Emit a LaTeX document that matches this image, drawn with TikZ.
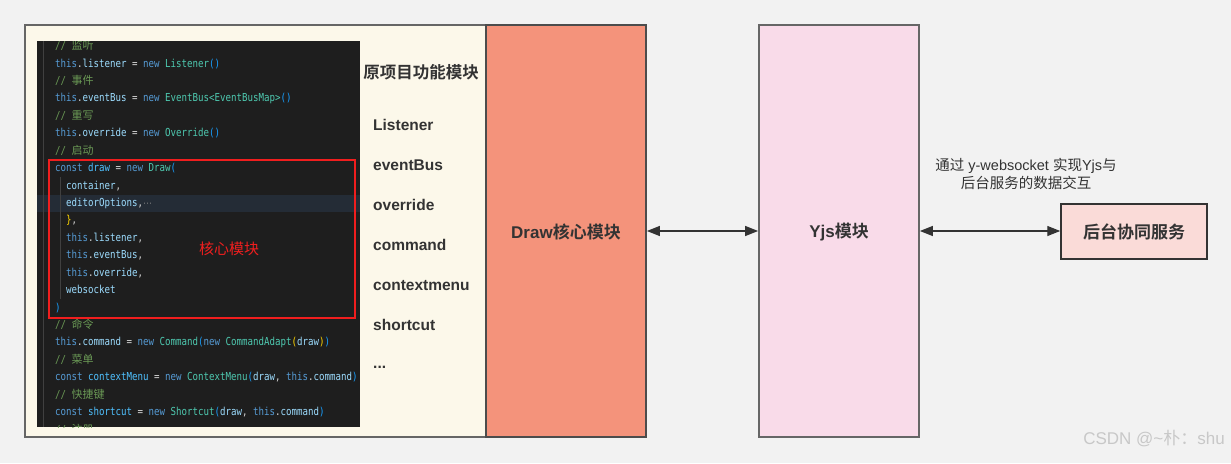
\documentclass[tikz,border=0pt]{standalone}
\usepackage{fontspec}
\setmainfont{Liberation Sans}
\setmonofont[FakeStretch=0.83]{DejaVu Sans Mono}
\newfontfamily\cjk[BoldFont={Noto Sans CJK SC Bold}]{Noto Sans CJK SC}
\newfontfamily\dvs{DejaVu Sans}
\usetikzlibrary{arrows.meta}
\definecolor{pagebg}{HTML}{F2F2F2}
\definecolor{cream}{HTML}{FCF8EA}
\definecolor{salmon}{HTML}{F4937B}
\definecolor{pinkbox}{HTML}{F9DBE9}
\definecolor{srvfill}{HTML}{FADBD8}
\definecolor{edge}{HTML}{666666}
\definecolor{txt}{HTML}{333333}
\definecolor{codebg}{HTML}{1E1E1E}
\definecolor{codehl}{HTML}{242C36}
\definecolor{guide}{HTML}{404040}
\definecolor{ckw}{HTML}{569CD6}
\definecolor{cpr}{HTML}{9CDCFE}
\definecolor{cvr}{HTML}{4FC1FF}
\definecolor{ccl}{HTML}{4EC9B0}
\definecolor{ccm}{HTML}{6A9955}
\definecolor{cop}{HTML}{D4D4D4}
\definecolor{cby}{HTML}{FFD700}
\definecolor{cbb}{HTML}{179FFF}
\definecolor{redmark}{HTML}{F01E1E}
\definecolor{wm}{HTML}{C8C8C8}
\newcommand\CKw[1]{\textcolor{ckw}{#1}}
\newcommand\CPr[1]{\textcolor{cpr}{#1}}
\newcommand\CVr[1]{\textcolor{cvr}{#1}}
\newcommand\CCl[1]{\textcolor{ccl}{#1}}
\newcommand\CBy[1]{\textcolor{cby}{#1}}
\newcommand\CBb[1]{\textcolor{cbb}{#1}}
\newcommand\CCm[1]{\textcolor{ccm}{// {\cjk\fontsize{11}{12}\selectfont #1}}}
\tikzset{
  box/.style={draw=edge, line width=1.8pt, inner sep=0pt},
  lbl/.style={text=txt, inner sep=0pt, font=\bfseries\fontsize{17}{20}\selectfont},
  item/.style={text=txt, inner sep=0pt, anchor=mid west, font=\bfseries\fontsize{15.5}{18}\selectfont},
  codeline/.style={anchor=mid west, inner sep=0pt, text=cop, font=\ttfamily\fontsize{11}{12}\selectfont},
  arr/.style={line width=1.4pt, draw=txt, {Triangle[length=13pt,width=10pt]}-{Triangle[length=13pt,width=10pt]}}
}
\begin{document}
\begin{tikzpicture}[x=1pt,y=-1pt]
\fill[pagebg] (0,0) rectangle (1231,463);
\useasboundingbox (0,0) rectangle (1231,463);
% main boxes
\node[box, fill=cream, minimum width=461pt, minimum height=412pt] (proj) at (255.5,231) {};
\node[box, fill=salmon, draw=black!70, minimum width=160pt, minimum height=412pt] (drawm) at (566,231) {};
\node[box, fill=pinkbox, minimum width=160pt, minimum height=412pt] (yjs) at (839,231) {};
\node[box, fill=srvfill, draw=txt, line width=1.5pt, minimum width=146pt, minimum height=55pt] (srv) at (1134,231.5) {};
\node[lbl] (drawt) at (566,232) {Draw{\cjk 核心模块}};
\node[lbl] (yjst) at (839,232) {Yjs{\cjk 模块}};
\node[lbl] (srvt) at (1134,232) {\cjk 后台协同服务};
% arrows
\draw[arr] (drawm.east) -- (yjs.west);
\draw[arr] (yjs.east) -- (yjs.east -| srv.west);
\node[text=txt, inner sep=0pt, align=center, font=\fontsize{14.5}{18}\selectfont] (note) at (1026,174)
  {{\cjk 通过} y-websocket {\cjk 实现}Yjs{\cjk 与}\\{\cjk 后台服务的数据交互}};
% module list
\node[text=txt, inner sep=0pt, font=\cjk\bfseries\fontsize{16.5}{20}\selectfont] (title) at (421,72) {原项目功能模块};
\node[item] (i1) at (373,128) {Listener};
\node[item] (i2) at (373,168) {eventBus};
\node[item] (i3) at (373,208) {override};
\node[item] (i4) at (373,248) {command};
\node[item] (i5) at (373,288) {contextmenu};
\node[item] (i6) at (373,328) {shortcut};
\node[item] (i7) at (373,366) {...};
% code screenshot
\node[fill=codebg, inner sep=0pt, minimum width=323pt, minimum height=386pt] (code) at (198.5,234) {};
\begin{scope}
\clip (37,41) rectangle (360,427);
\fill[codehl] (37,194.5) rectangle (360,211.5);
\draw[guide, line width=0.8pt] (43,41) -- (43,427);
\draw[guide, line width=0.8pt] (60,177) -- (60,299);
\node[codeline] (l1) at (55,47.0) {\CCm{监听}};
\node[codeline] (l2) at (55,64.4) {\CKw{this}.\CPr{listener} = \CKw{new} \CCl{Listener}\CBb{()}};
\node[codeline] (l3) at (55,81.9) {\CCm{事件}};
\node[codeline] (l4) at (55,99.3) {\CKw{this}.\CPr{eventBus} = \CKw{new} \CCl{EventBus<EventBusMap>}\CBb{()}};
\node[codeline] (l5) at (55,116.7) {\CCm{重写}};
\node[codeline] (l6) at (55,134.2) {\CKw{this}.\CPr{override} = \CKw{new} \CCl{Override}\CBb{()}};
\node[codeline] (l7) at (55,151.6) {\CCm{启动}};
\node[codeline] (l8) at (55,169.0) {\CKw{const} \CVr{draw} = \CKw{new} \CCl{Draw}\CBb{(}};
\node[codeline] (l9) at (66,186.4) {\CPr{container},};
\node[codeline] (l10) at (66,203.9) {\CPr{editorOptions},\textcolor{gray}{\dvs\fontsize{9}{10}\selectfont ⋯}};
\node[codeline] (l11) at (66,221.3) {\CBy{\}},};
\node[codeline] (l12) at (66,238.7) {\CKw{this}.\CPr{listener},};
\node[codeline] (l13) at (66,256.2) {\CKw{this}.\CPr{eventBus},};
\node[codeline] (l14) at (66,273.6) {\CKw{this}.\CPr{override},};
\node[codeline] (l15) at (66,291.0) {\CPr{websocket}};
\node[codeline] (l16) at (55,308.4) {\CBb{)}};
\node[codeline] (l17) at (55,325.9) {\CCm{命令}};
\node[codeline] (l18) at (55,343.3) {\CKw{this}.\CPr{command} = \CKw{new} \CCl{Command}\CBb{(}\CKw{new} \CCl{CommandAdapt}\CBy{(}\CPr{draw}\CBy{)}\CBb{)}};
\node[codeline] (l19) at (55,360.7) {\CCm{菜单}};
\node[codeline] (l20) at (55,378.2) {\CKw{const} \CVr{contextMenu} = \CKw{new} \CCl{ContextMenu}\CBb{(}\CPr{draw}, \CKw{this}.\CPr{command}\CBb{)}};
\node[codeline] (l21) at (55,395.6) {\CCm{快捷键}};
\node[codeline] (l22) at (55,413.0) {\CKw{const} \CVr{shortcut} = \CKw{new} \CCl{Shortcut}\CBb{(}\CPr{draw}, \CKw{this}.\CPr{command}\CBb{)}};
\node[codeline] (l23) at (55,430.5) {\CCm{注册}};
\end{scope}
\node[draw=redmark, line width=2pt, minimum width=306pt, minimum height=158pt, inner sep=0pt] (core) at (202,239) {};
\node[text=redmark, inner sep=0pt, font=\cjk\fontsize{15}{18}\selectfont] (coret) at (229,249) {核心模块};
% watermark
\node[text=wm, inner sep=0pt, anchor=mid east, font=\fontsize{17}{20}\selectfont] (wmk) at (1225,442) {CSDN @\textasciitilde{\cjk 朴：}shu};
\end{tikzpicture}
\end{document}
